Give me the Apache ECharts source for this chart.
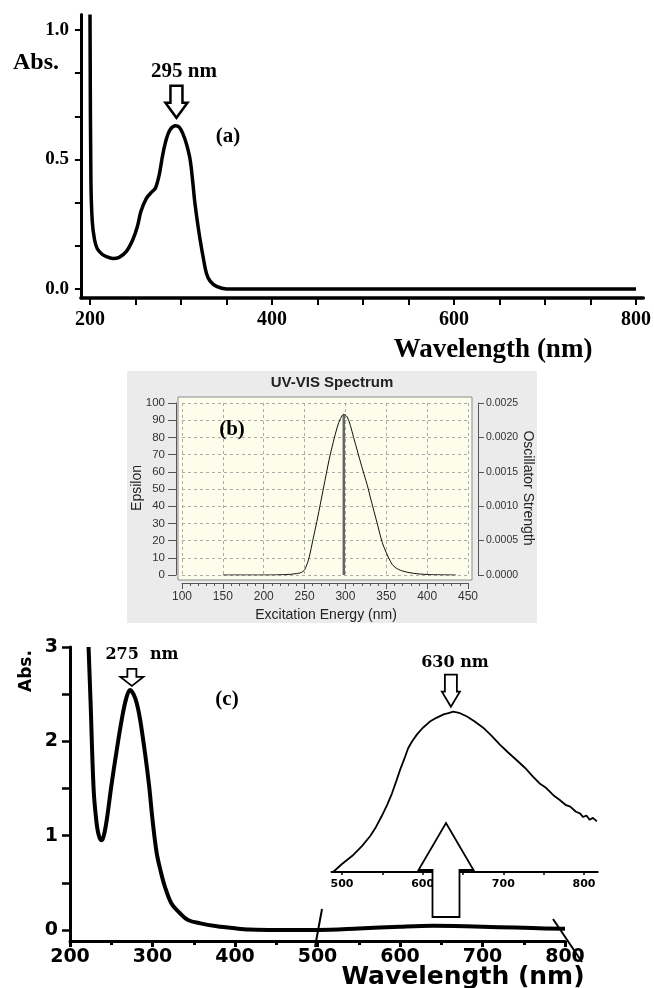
<!DOCTYPE html>
<html><head><meta charset="utf-8">
<script src="https://cdn.jsdelivr.net/npm/echarts@6/dist/echarts.min.js"></script>
<style>html,body{margin:0;padding:0;background:#fff}#c{width:654px;height:988px}</style>
</head><body><div id="c"></div>
<script>
// ---------- Panel (a): measured UV-Vis ----------
const aWavelength = [200, 201, 202.5, 205, 208, 213, 218, 225, 232, 240, 247, 252, 256, 262, 268, 272, 276, 280, 284, 288, 294, 298, 302, 306, 310, 313, 315, 318, 321, 325, 328, 332, 339, 350, 800];
const aAbsorbance = [1.06, 0.42, 0.26, 0.19, 0.155, 0.135, 0.125, 0.118, 0.122, 0.145, 0.19, 0.24, 0.30, 0.35, 0.375, 0.39, 0.44, 0.52, 0.58, 0.615, 0.63, 0.625, 0.60, 0.56, 0.50, 0.41, 0.34, 0.26, 0.19, 0.11, 0.06, 0.03, 0.01, 0, 0];
const aXTicks = [200, 250, 300, 350, 400, 450, 500, 550, 600, 650, 700, 750, 800];
const aXLabels = [200, 400, 600, 800];
const aYTicks = [0, 1/6, 2/6, 0.5, 4/6, 5/6, 1];
const aYLabels = [0, 0.5, 1];
const aPeakNm = 295;

// ---------- Panel (b): computed spectrum ----------
const bWavelength = [150, 200, 225, 240, 248, 252, 256, 260, 265, 270, 275, 280, 285, 290, 294, 298, 302, 306, 310, 315, 320, 325, 328, 330, 335, 340, 345, 350, 355, 360, 370, 383, 400, 435];
const bEpsilon = [0, 0, 0.2, 0.8, 2, 5, 11, 20, 31, 43, 55, 67, 77, 86, 91, 93.4, 92, 87, 80, 71.5, 63, 55, 50, 46, 37, 28, 19, 13, 8, 4.7, 2.3, 1, 0.3, 0];
const bStickWavelength = [298, 298];
const bStickStrength = [0, 0.00233];

// ---------- Panel (c): measured UV-Vis ----------
const cWavelength = [222.5, 225, 228.6, 232, 235, 238.5, 241, 244.6, 250, 256, 262.7, 268, 272.7, 277, 281, 285, 291, 296, 300, 305, 310, 315, 323, 333, 343, 358, 378, 398, 418, 450, 500, 550, 600, 640, 680, 720, 760, 800];
const cAbsorbance = [3.0, 2.4, 1.5, 1.15, 1.0, 0.95, 1.0, 1.17, 1.52, 1.87, 2.23, 2.45, 2.545, 2.5, 2.4, 2.23, 1.87, 1.52, 1.17, 0.82, 0.62, 0.46, 0.28, 0.18, 0.106, 0.07, 0.04, 0.02, 0.005, 0, 0, 0.015, 0.035, 0.045, 0.04, 0.03, 0.02, 0.012];
const cXLabels = [200, 300, 400, 500, 600, 700, 800];
const cYTicks = [0, 0.5, 1, 1.5, 2, 2.5, 3];
const cYLabels = [0, 1, 2, 3];
const cPeakNm = 275;

// ---------- Inset of (c) ----------
const insetWavelength = [489, 500, 514, 525, 535, 542, 549, 556, 562, 567, 572, 577, 582, 587, 593, 600, 609, 617, 626, 632, 638, 645, 655, 665, 675, 685, 696, 706, 717, 727, 737, 745, 752, 762, 770, 777, 783, 790, 795, 799, 803, 807, 811, 816];
const insetSignal = [0, 0.003, 0.0064, 0.0098, 0.0135, 0.0168, 0.0208, 0.0252, 0.0295, 0.0338, 0.0383, 0.0422, 0.0464, 0.0490, 0.0516, 0.0540, 0.0564, 0.0578, 0.0591, 0.0596, 0.0601, 0.0597, 0.0583, 0.0563, 0.0541, 0.0512, 0.0477, 0.0448, 0.0418, 0.0390, 0.0357, 0.0332, 0.0318, 0.0288, 0.0270, 0.0252, 0.0245, 0.0226, 0.0220, 0.0206, 0.0212, 0.0196, 0.0203, 0.0190];
const insetXTicks = [500, 550, 600, 650, 700, 750, 800];
const insetXLabels = [500, 600, 700, 800];
const insetPeakNm = 635;

const zip = (xs, ys) => xs.map((x, i) => [x, ys[i]]);
const SERIF = '"Liberation Serif","Times New Roman",serif';
const SANS = '"Liberation Sans",Arial,sans-serif';
const DJS = '"DejaVu Sans",sans-serif';
const DJSERIF = '"DejaVu Serif",serif';

const chart = echarts.init(document.getElementById('c'), null, {renderer: 'canvas', width: 654, height: 988});

const noSplit = {show: false};
const option = {
  animation: false,
  backgroundColor: '#fff',
  grid: [
    {left: 80.9, right: 10.7, top: 14.5, bottom: 690, outerBoundsMode: 'none'},
    {left: 182, right: 186, top: 403, bottom: 413, outerBoundsMode: 'none'},
    {left: 70, right: 89, top: 647, bottom: 47, outerBoundsMode: 'none'},
    {left: 331.5, right: 56.3, top: 685.3, bottom: 116, outerBoundsMode: 'none'}
  ],
  xAxis: [
    {gridIndex: 0, type: 'value', min: 190, max: 808,
      axisLine: {onZero: false, lineStyle: {color: '#000', width: 3.5}},
      axisTick: {customValues: aXTicks, length: 7, lineStyle: {color: '#000', width: 2}},
      axisLabel: {customValues: aXLabels, margin: 12, color: '#000', fontFamily: SERIF, fontWeight: 'bold', fontSize: 20},
      splitLine: noSplit},
    {gridIndex: 1, type: 'value', min: 100, max: 450, interval: 50, offset: 8,
      axisLine: {onZero: false, lineStyle: {color: '#555', width: 1}},
      axisTick: {length: 6, lineStyle: {color: '#555'}},
      minorTick: {show: true, splitNumber: 5, length: 3, lineStyle: {color: '#555'}},
      axisLabel: {margin: 8, color: '#333', fontFamily: SANS, fontSize: 12},
      splitLine: {show: true, lineStyle: {color: '#aaa', type: [3, 3], width: 1}}},
    {gridIndex: 2, type: 'value', min: 200, max: 800, interval: 100,
      axisLine: {onZero: false, lineStyle: {color: '#000', width: 3}},
      axisTick: {length: 6, lineStyle: {color: '#000', width: 3}},
      minorTick: {show: true, splitNumber: 2, length: 4, lineStyle: {color: '#000', width: 3}},
      axisLabel: {margin: 7, color: '#000', fontFamily: DJS, fontWeight: 'bold', fontSize: 19},
      splitLine: noSplit},
    {gridIndex: 3, type: 'value', min: 487, max: 817,
      axisLine: {onZero: false, lineStyle: {color: '#000', width: 2}},
      axisTick: {customValues: insetXTicks, length: 3, lineStyle: {color: '#000', width: 1.5}},
      axisLabel: {customValues: insetXLabels, margin: 7, color: '#000', fontFamily: DJS, fontWeight: 'bold', fontSize: 11},
      splitLine: noSplit}
  ],
  yAxis: [
    {gridIndex: 0, type: 'value', min: -0.035, max: 1.06,
      axisLine: {show: true, onZero: false, lineStyle: {color: '#000', width: 3}},
      axisTick: {show: true, customValues: aYTicks, length: 6, lineStyle: {color: '#000', width: 2}},
      axisLabel: {customValues: aYLabels, margin: 12, color: '#000', fontFamily: SERIF, fontWeight: 'bold', fontSize: 19,
        formatter: v => v.toFixed(1)},
      splitLine: noSplit},
    {gridIndex: 1, type: 'value', min: 0, max: 100, interval: 10, offset: 6,
      axisLine: {show: true, onZero: false, lineStyle: {color: '#555', width: 1}},
      axisTick: {show: true, length: 8, lineStyle: {color: '#555'}},
      axisLabel: {margin: 11, color: '#333', fontFamily: SANS, fontSize: 11.5},
      splitLine: {show: true, lineStyle: {color: '#aaa', type: [3, 3], width: 1}}},
    {gridIndex: 1, type: 'value', position: 'right', min: 0, max: 0.0025, interval: 0.0005, offset: 10,
      axisLine: {show: true, onZero: false, lineStyle: {color: '#555', width: 1}},
      axisTick: {show: true, length: 6, lineStyle: {color: '#555'}},
      axisLabel: {margin: 8, color: '#333', fontFamily: SANS, fontSize: 10.5, formatter: v => v.toFixed(4)},
      splitLine: noSplit},
    {gridIndex: 2, type: 'value', min: -0.117, max: 3,
      axisLine: {show: true, onZero: false, lineStyle: {color: '#000', width: 3}},
      axisTick: {show: true, customValues: cYTicks, length: 8, lineStyle: {color: '#000', width: 2.5}},
      axisLabel: {customValues: cYLabels, margin: 12, color: '#000', fontFamily: DJS, fontWeight: 'bold', fontSize: 19},
      splitLine: noSplit},
    {gridIndex: 3, type: 'value', min: 0, max: 0.07, show: false, splitLine: noSplit}
  ],
  series: [
    {type: 'line', xAxisIndex: 0, yAxisIndex: 0, data: zip(aWavelength, aAbsorbance), showSymbol: false,
      smooth: 0.35, lineStyle: {color: '#000', width: 3.5, join: 'round'}, z: 5},
    {type: 'line', xAxisIndex: 1, yAxisIndex: 1, data: zip(bWavelength, bEpsilon), showSymbol: false,
      smooth: 0.35, lineStyle: {color: '#111', width: 1}, z: 5},
    {type: 'line', xAxisIndex: 1, yAxisIndex: 2, data: zip(bStickWavelength, bStickStrength), showSymbol: false,
      lineStyle: {color: '#666', width: 2.5}, z: 4},
    {type: 'line', xAxisIndex: 2, yAxisIndex: 3, data: zip(cWavelength, cAbsorbance), showSymbol: false,
      smooth: 0.35, lineStyle: {color: '#000', width: 4, join: 'round'}, z: 5},
    {type: 'line', xAxisIndex: 3, yAxisIndex: 4, data: zip(insetWavelength, insetSignal), showSymbol: false,
      lineStyle: {color: '#000', width: 1.8}, z: 5}
  ]
};
chart.setOption(option);

const px = (si, pt) => chart.convertToPixel({seriesIndex: si}, pt);
function txt(text, x, y, font, rot, fill) {
  return {type: 'text', x: x, y: y, rotation: rot || 0, z: 50,
    style: {text: text, font: font, fill: fill || '#000', textAlign: 'center', textVerticalAlign: 'middle', align: 'center', verticalAlign: 'middle'}};
}
function downArrow(cx, tipY, shaftW, headW, headH, shaftH, lw) {
  const t = tipY - headH - shaftH, h = tipY - headH;
  return {type: 'polygon', z: 40, shape: {points: [
    [cx - shaftW / 2, t], [cx + shaftW / 2, t], [cx + shaftW / 2, h], [cx + headW / 2, h],
    [cx, tipY], [cx - headW / 2, h], [cx - shaftW / 2, h]]},
    style: {fill: '#fff', stroke: '#000', lineWidth: lw, lineJoin: 'miter'}};
}
function upArrow(cx, apexY, shaftW, headW, headH, shaftH, lw) {
  const b = apexY + headH, e = b + shaftH;
  return {type: 'polygon', z: 40, shape: {points: [
    [cx, apexY], [cx + headW / 2, b], [cx + shaftW / 2, b], [cx + shaftW / 2, e],
    [cx - shaftW / 2, e], [cx - shaftW / 2, b], [cx - headW / 2, b]]},
    style: {fill: '#fff', stroke: '#000', lineWidth: lw, lineJoin: 'miter'}};
}

const aTip = px(0, [aPeakNm, Math.max(...aAbsorbance.slice(5))]);
const cTip = px(3, [cPeakNm, Math.max(...cAbsorbance.slice(5))]);
const iTip = px(4, [insetPeakNm, Math.max(...insetSignal)]);

const graphics = [
  {type: 'rect', z: -10, shape: {x: 127, y: 371, width: 410, height: 252}, style: {fill: '#ebebeb'}},
  {type: 'rect', z: -9, shape: {x: 178, y: 397, width: 294, height: 183}, style: {fill: '#fdfdec', stroke: '#8a8a8a', lineWidth: 1}},
  txt('Abs.', 36, 63, 'bold 24px ' + SERIF),
  txt('295 nm', 184, 72, 'bold 21px ' + SERIF),
  txt('(a)', 228, 137, 'bold 21px ' + SERIF),
  txt('Wavelength (nm)', 493, 350, 'bold 27px ' + SERIF),
  downArrow(aTip[0], aTip[1] - 8, 12, 22, 15, 17, 2.5),
  txt('UV-VIS Spectrum', 332, 383, 'bold 15px ' + SANS, 0, '#222'),
  txt('(b)', 232, 430, 'bold 21px ' + SERIF),
  txt('Epsilon', 137, 488, '14px ' + SANS, Math.PI / 2, '#222'),
  txt('Oscillator Strength', 528, 488, '14px ' + SANS, -Math.PI / 2, '#222'),
  txt('Excitation Energy (nm)', 326, 615, '14px ' + SANS, 0, '#222'),
  txt('Abs.', 27, 671, 'bold 17px ' + DJS, Math.PI / 2),
  txt('275  nm', 142, 655, 'bold 16px ' + DJSERIF),
  txt('(c)', 227, 700, 'bold 21px ' + SERIF),
  txt('630 nm', 455, 663, 'bold 16px ' + DJSERIF),
  txt('Wavelength (nm)', 463, 977, 'bold 25px ' + DJS),
  downArrow(cTip[0], cTip[1] - 4, 9, 23, 9, 8, 1.8),
  downArrow(iTip[0], iTip[1] - 5, 12, 18, 15, 17, 1.8),
  upArrow(446, 823, 27, 55, 47, 47, 1.8),
  {type: 'line', z: 45, shape: {x1: 322, y1: 909, x2: 315, y2: 947}, style: {stroke: '#000', lineWidth: 2}},
  {type: 'line', z: 45, shape: {x1: 553, y1: 919, x2: 582, y2: 962}, style: {stroke: '#000', lineWidth: 2}}
];
chart.setOption({graphic: graphics});
</script>
</body></html>
